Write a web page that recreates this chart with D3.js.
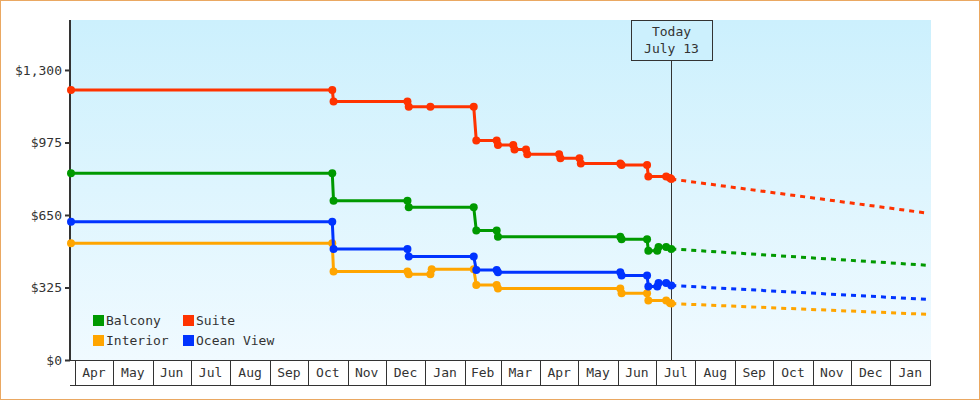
<!DOCTYPE html>
<html>
<head>
<meta charset="utf-8">
<script src="https://cdn.jsdelivr.net/npm/d3@7"></script>
<style>
  body { margin: 0; background: #fff; }
  svg { display: block; font-family: "DejaVu Sans Mono", monospace; }
</style>
</head>
<body>
<svg width="980" height="400"></svg>
<script>
const parse = d3.timeParse("%Y-%m-%d");

// price history, one date list + one price list per cabin type
const balconyDates = ["2024-03-29","2024-10-20","2024-10-21","2024-12-18","2024-12-19","2025-02-08","2025-02-10","2025-02-26","2025-02-27","2025-06-03","2025-06-04","2025-06-24","2025-06-25","2025-07-02","2025-07-03","2025-07-09","2025-07-13"];
const balconyPrices = [837, 837, 714, 714, 685, 685, 580, 580, 553, 553, 541, 541, 490, 490, 507, 507, 498];

const suiteDates = ["2024-03-29","2024-10-20","2024-10-21","2024-12-18","2024-12-19","2025-01-05","2025-02-08","2025-02-10","2025-02-26","2025-02-27","2025-03-11","2025-03-12","2025-03-21","2025-03-22","2025-04-16","2025-04-17","2025-05-02","2025-05-03","2025-06-03","2025-06-04","2025-06-24","2025-06-25","2025-07-09","2025-07-12","2025-07-13"];
const suitePrices = [1210, 1210, 1159, 1159, 1135, 1135, 1135, 984, 984, 964, 964, 944, 944, 922, 922, 904, 904, 881, 881, 874, 874, 823, 823, 816, 811];

const interiorDates = ["2024-03-29","2024-10-20","2024-10-21","2024-12-18","2024-12-19","2025-01-05","2025-01-06","2025-02-08","2025-02-10","2025-02-26","2025-02-27","2025-06-03","2025-06-04","2025-06-24","2025-06-25","2025-07-09","2025-07-12","2025-07-13"];
const interiorPrices = [523, 523, 397, 397, 384, 384, 407, 407, 336, 336, 321, 321, 299, 299, 267, 267, 255, 253];

const oceanDates = ["2024-03-29","2024-10-20","2024-10-21","2024-12-18","2024-12-19","2025-02-08","2025-02-10","2025-02-26","2025-02-27","2025-06-03","2025-06-04","2025-06-24","2025-06-25","2025-07-02","2025-07-03","2025-07-09","2025-07-13"];
const oceanPrices = [620, 620, 498, 498, 464, 464, 403, 403, 393, 393, 379, 379, 329, 329, 345, 345, 334];

// projected prices after today
const projDates = ["2025-07-13", "2026-01-29"];
const balconyProj = [498, 425];
const suiteProj = [811, 659];
const interiorProj = [253, 205];
const oceanProj = [334, 272];

const seriesNames = ["Balcony", "Suite", "Interior", "Ocean View"];
const seriesColors = ["#009900", "#ff3300", "#ffa500", "#0033ff"];

const yTicks = [0, 325, 650, 975, 1300];
const monthLabels = ["Apr","May","Jun","Jul","Aug","Sep","Oct","Nov","Dec","Jan","Feb","Mar","Apr","May","Jun","Jul","Aug","Sep","Oct","Nov","Dec","Jan"];
const todayDate = "2025-07-13";
const todayLabel = ["Today", "July 13"];

const svg = d3.select("svg");
const plotLeft = 71, plotRight = 930, plotTop = 20, plotBottom = 360;

const x = d3.scaleTime()
  .domain([parse("2024-03-29"), parse("2026-02-01")])
  .range([plotLeft, plotRight]);
const y = d3.scaleLinear().domain([0, 1524]).range([plotBottom, plotTop]);

// outer frame
svg.append("rect")
  .attr("x", 0.5).attr("y", 0.5).attr("width", 979).attr("height", 399)
  .attr("fill", "#fff").attr("stroke", "#eaa862");

// plot background gradient
const grad = svg.append("defs").append("linearGradient")
  .attr("id", "bg").attr("x1", 0).attr("y1", 0).attr("x2", 0).attr("y2", 1);
grad.append("stop").attr("offset", "0%").attr("stop-color", "#ccf0fd");
grad.append("stop").attr("offset", "100%").attr("stop-color", "#f0faff");
svg.append("rect")
  .attr("x", plotLeft).attr("y", plotTop).attr("width", plotRight - plotLeft + 1).attr("height", plotBottom - plotTop)
  .attr("fill", "url(#bg)");

// month boxes under the plot
const monthStarts = d3.timeMonth.range(parse("2024-04-01"), parse("2026-02-02"));
const xAxis = svg.append("g")
  .attr("transform", `translate(0,${plotBottom})`)
  .call(d3.axisBottom(x).tickValues(monthStarts).tickSize(25).tickFormat(""));
xAxis.select(".domain").remove();
xAxis.selectAll("line").attr("stroke", "#333").attr("shape-rendering", "crispEdges");
svg.append("line").attr("x1", plotLeft - 1).attr("x2", plotRight + 1).attr("y1", plotBottom + 0.5).attr("y2", plotBottom + 0.5)
  .attr("stroke", "#333");
svg.append("line").attr("x1", plotLeft - 1).attr("x2", plotRight + 1).attr("y1", plotBottom + 25.5).attr("y2", plotBottom + 25.5)
  .attr("stroke", "#333");
svg.append("g").selectAll("text")
  .data(monthStarts.slice(0, monthLabels.length))
  .join("text")
  .attr("x", d => (x(d) + x(d3.timeMonth.offset(d, 1))) / 2)
  .attr("y", plotBottom + 17)
  .attr("text-anchor", "middle")
  .attr("font-size", 13)
  .attr("fill", "#333")
  .text((d, i) => monthLabels[i]);

// y axis
const yAxis = svg.append("g")
  .attr("transform", `translate(${plotLeft - 1},0)`)
  .call(d3.axisLeft(y).tickValues(yTicks).tickSize(5).tickPadding(3).tickFormat(d3.format("$,")));
yAxis.select(".domain").remove();
yAxis.selectAll("line").attr("stroke", "#333").attr("stroke-width", 2);
yAxis.selectAll("text").attr("font-size", 13).attr("fill", "#333").attr("font-family", "DejaVu Sans Mono");
svg.append("line").attr("x1", plotLeft - 1).attr("x2", plotLeft - 1).attr("y1", plotTop).attr("y2", plotBottom)
  .attr("stroke", "#333").attr("stroke-width", 2);

// today marker
const tx = Math.round(x(parse(todayDate))) + 0.5;
svg.append("line").attr("x1", tx).attr("x2", tx).attr("y1", plotTop + 41).attr("y2", plotBottom)
  .attr("stroke", "#333");
svg.append("rect").attr("x", tx - 40).attr("y", plotTop + 0.5).attr("width", 81).attr("height", 40)
  .attr("fill", "#ccf0fd").attr("stroke", "#333");
svg.selectAll(".today").data(todayLabel).join("text")
  .attr("class", "today")
  .attr("x", tx).attr("y", (d, i) => 36 + i * 17)
  .attr("text-anchor", "middle").attr("font-size", 13).attr("fill", "#333")
  .text(d => d);

// series
const history = [
  { dates: balconyDates, prices: balconyPrices, proj: balconyProj },
  { dates: suiteDates, prices: suitePrices, proj: suiteProj },
  { dates: interiorDates, prices: interiorPrices, proj: interiorProj },
  { dates: oceanDates, prices: oceanPrices, proj: oceanProj }
];
const line = d3.line().x(d => x(d[0])).y(d => y(d[1]));

const drawOrder = [2, 3, 0, 1];
drawOrder.forEach(i => {
  const s = history[i];
  const pts = s.dates.map((d, j) => [parse(d), s.prices[j]]);
  const proj = projDates.map((d, j) => [parse(d), s.proj[j]]);
  const g = svg.append("g");
  g.append("path").datum(proj)
    .attr("d", line).attr("fill", "none")
    .attr("stroke", seriesColors[i]).attr("stroke-width", 3).attr("stroke-dasharray", "5,5");
  g.append("path").datum(pts)
    .attr("d", line).attr("fill", "none")
    .attr("stroke", seriesColors[i]).attr("stroke-width", 3);
  g.selectAll("circle").data(pts).join("circle")
    .attr("cx", d => x(d[0])).attr("cy", d => y(d[1])).attr("r", 4)
    .attr("fill", seriesColors[i]);
});

// legend
const legend = svg.append("g").attr("transform", "translate(93,315)");
seriesNames.forEach((name, i) => {
  const lg = legend.append("g").attr("transform", `translate(${(i % 2) * 90},${Math.floor(i / 2) * 20})`);
  lg.append("rect").attr("width", 11).attr("height", 11).attr("fill", seriesColors[i]);
  lg.append("text").attr("x", 13).attr("y", 10).attr("font-size", 13).attr("fill", "#333").text(name);
});
</script>
</body>
</html>
